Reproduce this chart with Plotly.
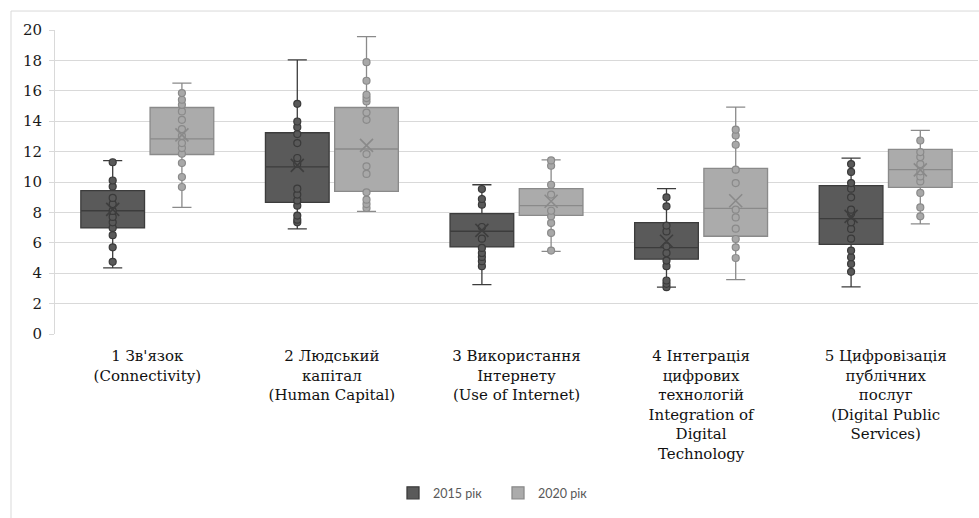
import plotly.graph_objects as go

categories = [
    "1 Зв'язок<br>(Connectivity)",
    "2 Людський<br>капітал<br>(Human Capital)",
    "3 Використання<br>Інтернету<br>(Use of Internet)",
    "4 Інтеграція<br>цифрових<br>технологій<br>Integration of<br>Digital<br>Technology",
    "5 Цифровізація<br>публічних<br>послуг<br>(Digital Public<br>Services)",
]
y_ticks = [0, 2, 4, 6, 8, 10, 12, 14, 16, 18, 20]

# 2015 box statistics
q1_2015 = [6.98, 8.66, 5.73, 4.92, 5.90]
median_2015 = [8.11, 11.00, 6.76, 5.68, 7.59]
q3_2015 = [9.43, 13.24, 7.92, 7.33, 9.76]
low_2015 = [4.35, 6.91, 3.25, 3.08, 3.10]
high_2015 = [11.40, 18.03, 9.82, 9.56, 11.57]
mean_2015 = [8.20, 11.09, 6.82, 6.10, 7.74]

# 2020 box statistics
q1_2020 = [11.81, 9.38, 7.81, 6.43, 9.65]
median_2020 = [12.84, 12.17, 8.44, 8.27, 10.81]
q3_2020 = [14.90, 14.90, 9.56, 10.90, 12.14]
low_2020 = [8.33, 8.07, 5.44, 3.58, 7.24]
high_2020 = [16.50, 19.57, 11.46, 14.93, 13.39]
mean_2020 = [13.10, 12.41, 8.73, 8.77, 10.80]

# individual points (per category)
points_2015_c1 = [11.3, 10.1, 9.7, 8.95, 8.55, 8.1, 7.7, 7.35, 6.98, 6.5, 5.7, 4.75]
points_2015_c2 = [15.14, 13.98, 13.61, 13.15, 12.56, 11.58, 11.2, 9.56, 9.17, 8.79, 8.44, 7.79, 7.52, 7.35]
points_2015_c3 = [9.54, 8.88, 8.51, 7.04, 6.27, 5.66, 5.33, 5.07, 4.79, 4.46]
points_2015_c4 = [8.99, 8.4, 7.13, 6.75, 5.77, 5.33, 4.83, 4.46, 3.52, 3.3, 3.08]
points_2015_c5 = [11.18, 10.66, 9.93, 9.56, 8.99, 8.18, 7.92, 7.35, 6.91, 6.27, 5.49, 5.05, 4.61, 4.09]

points_2020_c1 = [15.85, 15.41, 15.08, 14.64, 14.09, 13.48, 13.04, 12.56, 12.23, 11.86, 11.25, 10.33, 9.67]
points_2020_c2 = [17.88, 16.66, 15.74, 15.52, 15.3, 14.57, 14.09, 11.84, 11.03, 10.53, 9.32, 8.84, 8.55, 8.29]
points_2020_c3 = [11.42, 11.07, 9.82, 9.17, 8.11, 7.74, 7.31, 6.65, 5.49]
points_2020_c4 = [13.44, 13.06, 12.45, 10.81, 9.93, 8.18, 7.67, 6.93, 6.25, 5.7, 5.0]
points_2020_c5 = [12.73, 11.97, 11.64, 11.18, 10.7, 10.37, 10.04, 9.28, 8.33, 7.74]

series_names = ["2015 рік", "2020 рік"]

points_2015 = [points_2015_c1, points_2015_c2, points_2015_c3, points_2015_c4, points_2015_c5]
points_2020 = [points_2020_c1, points_2020_c2, points_2020_c3, points_2020_c4, points_2020_c5]

styles = [
    dict(fill="#5a5a5a", line="#3c3c3c", pt="#595959", ptline="#3a3a3a", mean="#3e3e3e"),
    dict(fill="#ababab", line="#8a8a8a", pt="#a8a8a8", ptline="#8a8a8a", mean="#8a8a8a"),
]

stats = [
    (q1_2015, median_2015, q3_2015, low_2015, high_2015, mean_2015, points_2015),
    (q1_2020, median_2020, q3_2020, low_2020, high_2020, mean_2020, points_2020),
]

SERIF = "DejaVu Serif, Liberation Serif, serif"

fig = go.Figure()
for i, (q1, med, q3, lo, hi, mn, pts) in enumerate(stats):
    st = styles[i]
    grp = "g%d" % i
    fig.add_trace(go.Box(
        name=series_names[i], x=categories, q1=q1, median=med, q3=q3,
        lowerfence=lo, upperfence=hi, offsetgroup=grp, legendgroup=grp,
        fillcolor=st["fill"], line=dict(color=st["line"], width=1.3),
        whiskerwidth=0.3, boxpoints=False, hoverinfo="skip",
    ))

for i, (q1, med, q3, lo, hi, mn, pts) in enumerate(stats):
    st = styles[i]
    grp = "g%d" % i
    xs, ys = [], []
    for c, vals in zip(categories, pts):
        xs += [c] * len(vals)
        ys += vals
    fig.add_trace(go.Box(
        name=series_names[i], x=xs, y=ys, offsetgroup=grp, legendgroup=grp,
        showlegend=False, boxpoints="all", jitter=0, pointpos=0,
        fillcolor="rgba(0,0,0,0)", line=dict(color="rgba(0,0,0,0)", width=0),
        marker=dict(color=st["pt"], size=7, line=dict(color=st["ptline"], width=1.2)),
        hoverinfo="skip",
    ))
    fig.add_trace(go.Box(
        name=series_names[i], x=categories, y=mn, offsetgroup=grp, legendgroup=grp,
        showlegend=False, boxpoints="all", jitter=0, pointpos=0,
        fillcolor="rgba(0,0,0,0)", line=dict(color="rgba(0,0,0,0)", width=0),
        marker=dict(color=st["mean"], size=13, symbol="x-thin-open",
                    line=dict(color=st["mean"], width=1.6)),
        hoverinfo="skip",
    ))

L, R, T, B = 55, 1, 30, 183.5
W, H = 979, 518
pw, ph = W - L - R, H - T - B

fig.update_layout(
    width=W, height=H,
    margin=dict(l=L, r=R, t=T, b=B, pad=0, autoexpand=False),
    paper_bgcolor="white", plot_bgcolor="white",
    boxmode="group", boxgap=0.25, boxgroupgap=0.08,
    font=dict(family=SERIF, size=15, color="#1a1a1a"),
    showlegend=True,
    legend=dict(orientation="h", x=(498 - L) / pw, xanchor="center",
                y=(T + ph - 494) / ph, yanchor="middle",
                font=dict(family="Lato", size=12.5, color="#595959"),
                itemwidth=30, traceorder="normal",
                entrywidth=60, entrywidthmode="pixels"),
    xaxis=dict(showgrid=False, showline=False, ticks="", automargin=False,
               range=[-0.5, 4.5],
               tickfont=dict(family=SERIF, size=15, color="#111"),
               ticklabelstandoff=11),
    yaxis=dict(range=[0, 20], tickvals=y_ticks, showgrid=True, gridcolor="#d9d9d9",
               gridwidth=1, zeroline=False, showline=True, linecolor="#d9d9d9",
               ticks="outside", ticklen=5, tickcolor="#d9d9d9", automargin=False,
               tickfont=dict(family=SERIF, size=15, color="#1a1a1a"),
               ticklabelstandoff=4),
    shapes=[dict(type="rect", xref="paper", yref="paper",
                 x0=(11 - L) / pw, x1=1.2, y0=-1.0, y1=(T + ph - 11) / ph,
                 line=dict(color="#d9d9d9", width=1), fillcolor="rgba(0,0,0,0)",
                 layer="below")],
)

fig.write_html("out.html", config={"displayModeBar": False},
               post_script="document.body.style.margin='0';")
